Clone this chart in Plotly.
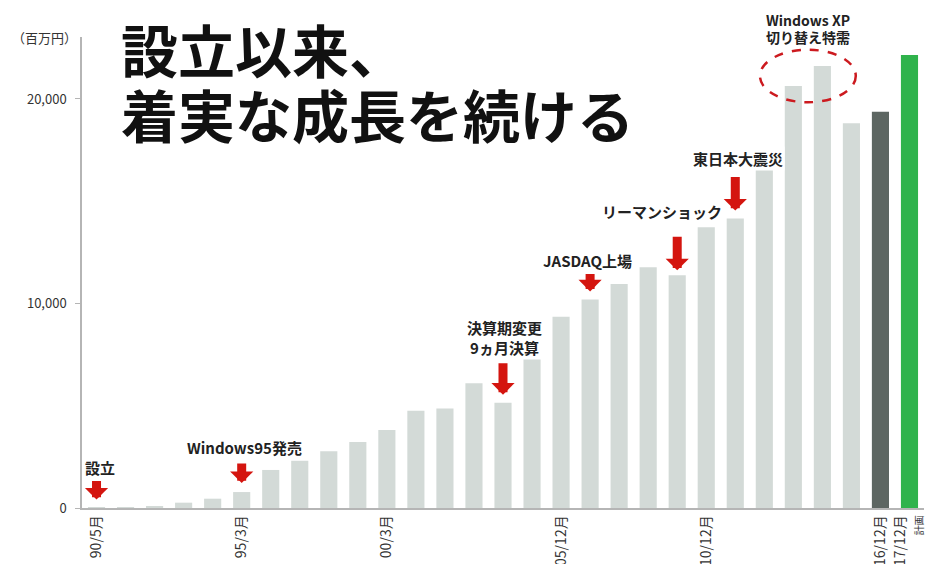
import plotly.graph_objects as go

# ---------------- data ----------------
periods = ["90/5", "91/3", "92/3", "93/3", "94/3", "95/3", "96/3", "97/3", "98/3", "99/3",
           "00/3", "01/3", "02/3", "03/3", "03/12", "04/12", "05/12", "06/12", "07/12", "08/12",
           "09/12", "10/12", "11/12", "12/12", "13/12", "14/12", "15/12", "16/12", "17/12"]
sales = [20, 30, 80, 260, 455, 780, 1860, 2310, 2770, 3230,
         3810, 4760, 4860, 6100, 5150, 7800, 9350, 10200, 10950, 11770,
         11380, 13730, 14150, 16610, 20640, 21610, 18810, 19380, 22150]

tick_cats = ["90/5", "95/3", "00/3", "05/12", "10/12", "16/12", "17/12"]
tick_texts = ["90/5月", "95/3月", "00/3月", "05/12月", "10/12月", "16/12月",
              "17/12月<br><span style='font-size:10px'>計画</span>"]

y_ticks = [0, 10000, 20000]
y_tick_texts = ["0", "10,000", "20,000"]

event_cats = ["90/5", "95/3", "03/12", "06/12", "09/12", "11/12"]
event_labels = ["設立", "Windows95発売", "決算期変更<br>9ヵ月決算", "JASDAQ上場",
                "リーマンショック", "東日本大震災"]

title_lines = ["設立以来、", "着実な成長を続ける"]
xp_lines = ["Windows XP", "切り替え特需"]
xp_cats = ["13/12", "14/12"]
unit_label = "（百万円）"

# ---------------- styles ----------------
FONT = "Noto Sans CJK JP"
LIGHT = "#d3dad7"
DARK = "#5d6662"
GREEN = "#2fb34c"
RED = "#d4150f"

# arrow: (length px, standoff px); label: (xshift, yshift from bar top)
arrow_style = [(20, 8), (21, 9), (33, 8), (19, 8), (35, 5), (35, 8)]
label_style = [(3, 40), (3, 45), (1, 65), (-3, 39), (-15, 64), (3, 60)]

colors = [LIGHT] * (len(periods) - 2) + [DARK, GREEN]

fig = go.Figure()
fig.add_trace(go.Bar(x=periods, y=sales, marker=dict(color=colors, line=dict(width=0)),
                     hoverinfo="x+y"))

annotations = []
for cat, lab, (alen, so), (xs, ys) in zip(event_cats, event_labels, arrow_style, label_style):
    i = periods.index(cat)
    v = sales[i]
    annotations.append(dict(x=i, y=v, xref="x", yref="y", text="", showarrow=True,
                            arrowhead=1, arrowsize=0.43, arrowwidth=9, arrowcolor=RED,
                            ax=0, ay=-(alen + so), standoff=so))
    annotations.append(dict(x=i, y=v, xref="x", yref="y", text="<b>" + lab + "</b>",
                            showarrow=False, xanchor="center", yanchor="middle",
                            xshift=xs, yshift=ys, bgcolor="white",
                            font=dict(family=FONT, size=15, color="#222")))

# Windows XP labels
xi = (periods.index(xp_cats[0]) + periods.index(xp_cats[1])) / 2
for line, py in zip(xp_lines, [1.036, 0.999]):
    annotations.append(dict(x=xi, y=py, xref="x", yref="paper", text="<b>" + line + "</b>",
                            showarrow=False, xanchor="center", yanchor="middle", borderpad=0,
                            font=dict(family=FONT, size=14, color="#222")))

# title
for line, py in zip(title_lines, [0.9767, 0.8386]):
    annotations.append(dict(x=0.045, y=py, xref="paper", yref="paper",
                            text="<b>" + line + "</b>", showarrow=False, borderpad=0,
                            xanchor="left", yanchor="middle",
                            font=dict(family=FONT, size=57, color="#111")))

# unit label
annotations.append(dict(x=-0.0855, y=1.0, xref="paper", yref="paper", text=unit_label,
                        showarrow=False, xanchor="left", yanchor="middle",
                        font=dict(family=FONT, size=13, color="#333")))

# dashed ellipse around XP demand bars
i0 = periods.index(xp_cats[0])
i1 = periods.index(xp_cats[1])
peak = max(sales[i0], sales[i1])
shapes = [dict(type="circle", xref="x", yref="y",
               x0=i0 - 1.15, x1=i1 + 1.15, y0=peak * 0.918, y1=peak * 1.037,
               line=dict(color="#cc1a1f", width=2.5, dash="dash"))]

fig.update_layout(
    width=930, height=564,
    margin=dict(l=82, r=6, t=37, b=56),
    paper_bgcolor="white", plot_bgcolor="white",
    showlegend=False, bargap=0.41,
    font=dict(family=FONT, color="#333"),
    annotations=annotations, shapes=shapes,
    xaxis=dict(type="category", tickmode="array", tickvals=tick_cats, ticktext=tick_texts,
               tickangle=-90, showline=True, linecolor="#b5b5b5", linewidth=1.5,
               ticks="", showgrid=False, zeroline=False, automargin=False,
               range=[-0.5, len(periods) - 0.5],
               tickfont=dict(family=FONT, size=14, color="#333")),
    yaxis=dict(range=[0, 23030], tickmode="array", tickvals=y_ticks, ticktext=y_tick_texts,
               showline=True, linecolor="#b5b5b5", linewidth=1.5,
               ticks="outside", ticklen=5, tickcolor="#b5b5b5", ticklabelstandoff=6,
               showgrid=False, zeroline=False, automargin=False,
               tickfont=dict(family=FONT, size=13, color="#333")),
)

fig.write_html("out.html")
